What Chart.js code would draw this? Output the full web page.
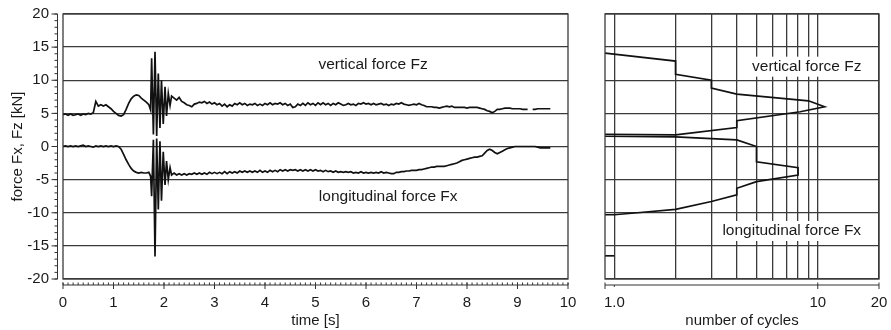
<!DOCTYPE html>
<html><head><meta charset="utf-8">
<script src="https://cdn.jsdelivr.net/npm/chart.js@4.4.0/dist/chart.umd.min.js"></script>
<style>
html,body{margin:0;padding:0;background:#fff;}
#wrap{position:relative;width:891px;height:330px;overflow:hidden;background:#fff;}
#c1box{position:absolute;left:0;top:0;width:590px;height:330px;}
#c2box{position:absolute;left:590px;top:0;width:301px;height:330px;}
</style></head><body>
<div id="wrap"><div id="c1box"><canvas id="c1"></canvas></div><div id="c2box"><canvas id="c2"></canvas></div></div>
<script>
// ---------- time series (left panel) ----------
const time = [
0,0.05,0.1,0.15,0.2,0.25,0.3,0.35,0.4,0.45,
0.5,0.55,0.6,0.65,0.7,0.75,0.8,0.85,0.9,0.95,
1,1.05,1.1,1.15,1.2,1.25,1.3,1.35,1.4,1.45,
1.5,1.55,1.6,1.65,1.7,
1.735,1.755,1.79,1.822,1.855,1.887,1.92,1.95,1.985,2.02,2.05,2.085,2.12,2.15,
2.2,2.25,2.3,2.35,2.4,2.45,2.5,2.55,2.6,2.65,
2.7,2.75,2.8,2.85,2.9,2.95,3,3.05,3.1,3.15,
3.2,3.25,3.3,3.35,3.4,3.45,3.5,3.55,3.6,3.65,
3.7,3.75,3.8,3.85,3.9,3.95,4,4.05,4.1,4.15,
4.2,4.25,4.3,4.35,4.4,4.45,4.5,4.55,4.6,4.65,
4.7,4.75,4.8,4.85,4.9,4.95,5,5.05,5.1,5.15,
5.2,5.25,5.3,5.35,5.4,5.45,5.5,5.55,5.6,5.65,
5.7,5.75,5.8,5.85,5.9,5.95,6,6.05,6.1,6.15,
6.2,6.25,6.3,6.35,6.4,6.45,6.5,6.55,6.6,6.65,
6.7,6.75,6.8,6.85,6.9,6.95,7,7.05,7.1,7.15,
7.2,7.25,7.3,7.35,7.4,7.45,7.5,7.55,7.6,7.65,
7.7,7.75,7.8,7.85,7.9,7.95,8,8.05,8.1,8.15,
8.2,8.25,8.3,8.35,8.4,8.45,8.5,8.55,8.6,8.65,
8.7,8.75,8.8,8.85,8.9,8.95,9,9.05,9.1,9.15,
9.2,9.25,9.3,9.35,9.4,9.45,9.5,9.55,9.6,9.65
];
const forceFz = [
4.8,4.9,4.7,4.9,4.7,4.8,4.9,4.7,4.9,4.8,
5.0,4.9,5.1,6.8,6.1,6.3,6.1,6.3,6.0,5.7,
5.3,5.0,4.7,4.6,4.8,5.6,6.5,7.2,7.6,7.8,
7.7,7.3,7.0,6.7,6.3,
5.5,13.3,1.8,14.3,1.6,11.0,2.8,10.0,3.4,9.0,4.6,8.0,6.2,7.6,
7.3,7.0,7.4,6.8,6.6,6.3,6.2,6.0,6.4,6.5,
6.7,6.6,6.8,6.5,6.7,6.4,6.6,6.3,6.5,6.1,
6.4,6.0,6.3,6.1,6.5,6.3,6.6,6.3,6.5,6.2,
6.4,6.3,6.5,6.2,6.4,6.2,6.5,6.3,6.6,6.3,
6.5,6.4,6.6,6.3,6.5,6.2,6.4,5.9,6.0,6.4,
6.2,6.5,6.2,6.6,6.3,6.5,6.2,6.6,6.3,6.6,
6.3,6.5,6.2,6.5,6.3,6.6,6.4,6.2,6.3,6.5,
6.3,6.4,6.2,6.5,6.4,6.6,6.4,6.5,6.3,6.5,
6.3,6.4,6.5,6.3,6.4,6.2,6.4,6.3,6.5,6.4,
6.6,6.4,6.3,6.2,6.3,6.4,6.3,6.5,6.3,6.2,
6.0,6.0,6.0,5.9,5.9,5.8,5.9,6.0,6.1,6.0,
6.1,5.9,5.9,5.9,5.9,5.9,5.8,5.9,5.9,5.9,
5.9,5.8,5.7,5.6,5.4,5.3,5.1,5.3,5.6,5.6,
5.7,5.8,5.8,5.8,5.7,5.7,5.7,5.7,5.6,5.6,
5.6,null,5.6,5.6,5.7,5.7,5.7,5.7,5.7,5.7
];
const forceFx = [
0.0,0.1,0.0,0.1,0.0,0.1,0.0,0.1,0.2,0.0,
0.1,0.0,-0.1,0.1,0.0,0.1,0.0,0.1,0.0,0.1,
0.0,0.1,0.0,-0.4,-1.2,-2.0,-2.7,-3.3,-3.7,-3.9,
-4.0,-3.9,-4.0,-4.0,-3.9,
-4.5,-7.5,1.0,-16.6,1.2,-9.5,0.8,-8.2,-0.8,-5.8,-2.2,-5.0,-3.2,-4.3,
-4.0,-4.3,-4.1,-4.3,-4.1,-4.3,-4.1,-4.2,-4.0,-4.2,
-4.0,-4.2,-4.0,-4.2,-3.9,-4.1,-3.9,-4.1,-3.9,-4.1,
-3.8,-4.1,-3.8,-4.0,-3.8,-4.0,-3.7,-3.9,-3.7,-3.9,
-3.7,-3.9,-3.7,-3.9,-3.6,-3.9,-3.7,-3.9,-3.6,-3.8,
-3.6,-3.8,-3.5,-3.7,-3.5,-3.7,-3.5,-3.6,-3.5,-3.7,
-3.5,-3.7,-3.5,-3.7,-3.5,-3.7,-3.5,-3.7,-3.6,-3.8,
-3.6,-3.8,-3.7,-3.9,-3.7,-3.9,-3.8,-3.9,-3.8,-3.9,
-3.8,-4.0,-3.9,-4.0,-3.8,-4.0,-3.9,-4.0,-3.9,-4.0,
-3.9,-4.0,-3.8,-4.0,-3.9,-4.0,-4.1,-4.1,-3.9,-3.9,
-3.8,-3.8,-3.7,-3.7,-3.6,-3.6,-3.6,-3.5,-3.5,-3.4,
-3.3,-3.2,-3.1,-3.1,-3.0,-3.0,-3.0,-3.0,-2.9,-2.8,
-2.7,-2.6,-2.5,-2.3,-2.1,-2.0,-1.9,-1.8,-1.7,-1.6,
-1.6,-1.5,-1.4,-1.0,-0.6,-0.4,-0.6,-0.9,-1.1,-0.9,
-0.7,-0.5,-0.3,-0.2,-0.1,0.0,0.0,0.0,0.0,0.0,
0.0,0.0,0.0,0.0,-0.1,-0.2,-0.2,-0.2,-0.2,-0.2
];
const timeTicks = [0,1,2,3,4,5,6,7,8,9,10];
const forceTicks = [-20,-15,-10,-5,0,5,10,15,20];

// ---------- cycle counts (right panel) ----------
const cycFzCount = [0.9,2,2,3,3,4,9,10.8,8.2,4,4,2,0.9];
const cycFzLevel = [14.1,12.9,10.9,10.0,8.8,7.9,6.9,6.0,5.25,3.9,2.85,1.75,1.85];
const cycFxCount = [0.9,2,4,5,5,8,8,5,4,4,3,2,1.3,1,0.9];
const cycFxLevel = [1.55,1.45,1.0,0.0,-2.3,-3.2,-4.3,-5.3,-6.3,-7.3,-8.3,-9.5,-10.0,-10.3,-10.3];
const cycFxTailCount = [0.9,1];
const cycFxTailLevel = [-16.5,-16.5];
const cycleGrid = [1,2,3,4,5,6,7,8,9,10,20];
const cycleTickVals = [1,10,20];
const cycleTickLabels = ['1.0','10','20'];

const FONT = '"Liberation Sans", Arial, sans-serif';
const INK = '#1a1a1a';
const GRID = '#3a3a3a';
Chart.defaults.font.family = FONT;
Chart.defaults.color = INK;

const pts = (xs, ys) => xs.map((v, i) => ({x: v, y: ys[i]}));
const noPad = s => { s.paddingLeft = 0; s.paddingRight = 0; s.paddingTop = 0; s.paddingBottom = 0; };

const frameAxes = {
  id: 'frameAxes',
  afterDatasetsDraw(chart, args, o) {
    const {ctx, chartArea: a, scales: {x, y}} = chart;
    ctx.save();
    ctx.font = '15.5px ' + FONT;
    ctx.textAlign = 'center'; ctx.textBaseline = 'middle';
    (o.labels || []).forEach(l => {
      const px = x.getPixelForValue(l.x), py = y.getPixelForValue(l.y);
      const w = ctx.measureText(l.text).width;
      if (o.labelBg) { ctx.fillStyle = '#fff'; ctx.fillRect(px - w / 2 - 3, py - 10, w + 6, 20); }
      ctx.fillStyle = INK; ctx.fillText(l.text, px, py);
    });
    ctx.strokeStyle = GRID; ctx.lineWidth = 1.3;
    ctx.strokeRect(a.left, a.top, a.right - a.left, a.bottom - a.top);
    const seg = (x1, y1, x2, y2) => { ctx.beginPath(); ctx.moveTo(x1, y1); ctx.lineTo(x2, y2); ctx.stroke(); };
    ctx.strokeStyle = '#333'; ctx.lineWidth = 1;
    if (o.yAxis) {
      const ax = a.left - o.yAxis.gap;
      seg(ax, y.getPixelForValue(y.max), ax, y.getPixelForValue(y.min));
      for (let v = y.min; v <= y.max; v += o.yAxis.minorStep) {
        const p = y.getPixelForValue(v); seg(ax - 3, p, ax, p);
      }
      o.yAxis.major.forEach(v => { const p = y.getPixelForValue(v); seg(ax - 6, p, ax, p); });
    }
    if (o.xAxis) {
      const ay = a.bottom + o.xAxis.gap;
      seg(x.getPixelForValue(x.min), ay, x.getPixelForValue(x.max), ay);
      if (o.xAxis.minorStep) {
        for (let v = x.min; v <= x.max + 1e-9; v += o.xAxis.minorStep) {
          const p = x.getPixelForValue(v); seg(p, ay - 2.5, p, ay);
        }
      }
      (o.xAxis.major || []).forEach(v => { const p = x.getPixelForValue(v); seg(p, ay - 2.5, p, ay + 4); });
      (o.xAxis.small || []).forEach(v => { const p = x.getPixelForValue(v); seg(p, ay, p, ay + 2); });
    }
    ctx.restore();
  }
};

const lineStyle = {borderColor: '#111', borderWidth: 1.7, pointRadius: 0, tension: 0, fill: false, spanGaps: false};

new Chart(document.getElementById('c1'), {
  type: 'line',
  data: {datasets: [
    Object.assign({label: 'vertical force Fz', data: pts(time, forceFz)}, lineStyle),
    Object.assign({label: 'longitudinal force Fx', data: pts(time, forceFx)}, lineStyle)
  ]},
  options: {
    responsive: true, maintainAspectRatio: false, animation: false, devicePixelRatio: 1,
    layout: {padding: {top: 14, right: 22, left: 0, bottom: 0}},
    plugins: {
      legend: {display: false}, tooltip: {enabled: false},
      frameAxes: {
        labels: [{text: 'vertical force Fz', x: 6.14, y: 12.3}, {text: 'longitudinal force Fx', x: 6.44, y: -7.6}],
        yAxis: {gap: 5.5, minorStep: 1, major: forceTicks},
        xAxis: {gap: 6, minorStep: 0.1, major: timeTicks}
      }
    },
    scales: {
      x: {type: 'linear', min: 0, max: 10,
        afterBuildTicks: s => { s.ticks = timeTicks.map(v => ({value: v})); },
        afterFit: s => { s.height = 51; noPad(s); },
        grid: {display: false, drawTicks: false}, border: {display: false},
        ticks: {padding: 15, font: {size: 15}, color: INK, maxRotation: 0, autoSkip: false},
        title: {display: true, text: 'time [s]', font: {size: 15}, color: INK, padding: {top: 0, bottom: 0}}},
      y: {min: -20, max: 20,
        afterBuildTicks: s => { s.ticks = forceTicks.map(v => ({value: v})); },
        afterFit: s => { s.width = 63; noPad(s); },
        grid: {color: GRID, lineWidth: 1.3, drawTicks: false}, border: {display: false},
        ticks: {padding: 14, font: {size: 15}, color: INK},
        title: {display: true, text: 'force Fx, Fz [kN]', font: {size: 15}, color: INK, padding: {top: 9, bottom: 0}}}
    }
  },
  plugins: [frameAxes]
});

new Chart(document.getElementById('c2'), {
  type: 'line',
  data: {datasets: [
    Object.assign({label: 'vertical force Fz', data: pts(cycFzCount, cycFzLevel)}, lineStyle),
    Object.assign({label: 'longitudinal force Fx', data: pts(cycFxCount, cycFxLevel)}, lineStyle),
    Object.assign({label: 'longitudinal force Fx (tail)', data: pts(cycFxTailCount, cycFxTailLevel)}, lineStyle)
  ]},
  options: {
    responsive: true, maintainAspectRatio: false, animation: false, devicePixelRatio: 1,
    layout: {padding: {top: 14, right: 12, left: 0, bottom: 0}},
    plugins: {
      legend: {display: false}, tooltip: {enabled: false},
      frameAxes: {
        labelBg: true,
        labels: [{text: 'vertical force Fz', x: 8.83, y: 12.05}, {text: 'longitudinal force Fx', x: 7.45, y: -12.75}],
        xAxis: {gap: 6, major: [0.9, 10, 20], small: [1]}
      }
    },
    scales: {
      x: {type: 'logarithmic', min: 0.9, max: 20,
        afterBuildTicks: s => { s.ticks = cycleGrid.map(v => ({value: v})); },
        afterFit: s => { s.height = 51; noPad(s); },
        grid: {color: GRID, lineWidth: 1.3, drawTicks: false}, border: {display: false},
        ticks: {padding: 15, font: {size: 15}, color: INK, maxRotation: 0, autoSkip: false,
          callback: v => { const i = cycleTickVals.indexOf(v); return i >= 0 ? cycleTickLabels[i] : ''; }},
        title: {display: true, text: 'number of cycles', font: {size: 15}, color: INK, padding: {top: 0, bottom: 0}}},
      y: {min: -20, max: 20,
        afterBuildTicks: s => { s.ticks = forceTicks.map(v => ({value: v})); },
        afterFit: s => { s.width = 15; noPad(s); },
        grid: {color: GRID, lineWidth: 1.3, drawTicks: false}, border: {display: false},
        ticks: {display: false}}
    }
  },
  plugins: [frameAxes]
});
</script></body></html>
